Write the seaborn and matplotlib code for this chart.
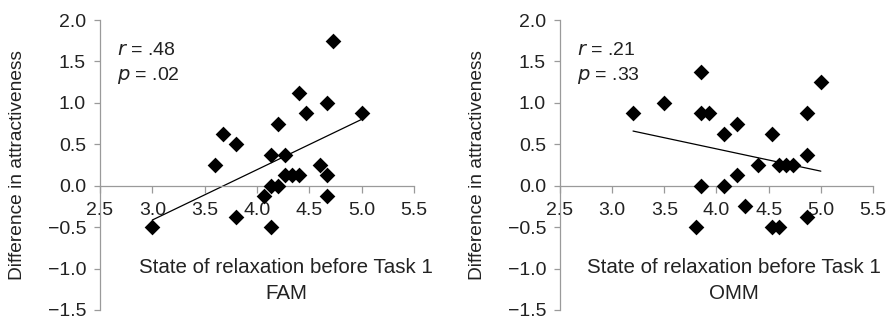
import numpy as np
import pandas as pd
import matplotlib
matplotlib.use("Agg")
import matplotlib.pyplot as plt
import seaborn as sns
from matplotlib.ticker import FuncFormatter

# FAM group
fam_x = [3.0, 3.6, 3.68, 3.8, 3.8, 4.07, 4.13, 4.13, 4.13, 4.2, 4.2, 4.27,
         4.27, 4.33, 4.4, 4.4, 4.47, 4.6, 4.67, 4.67, 4.67, 4.73, 5.0]
fam_y = [-0.5, 0.25, 0.625, 0.5, -0.375, -0.125, -0.5, 0.0, 0.375, 0.0, 0.75, 0.375,
         0.125, 0.125, 0.125, 1.125, 0.875, 0.25, 1.0, 0.125, -0.125, 1.75, 0.875]

# OMM group
omm_x = [3.2, 3.5, 3.85, 3.85, 3.93, 3.85, 3.8, 4.07, 4.07, 4.2, 4.2, 4.27,
         4.4, 4.53, 4.53, 4.6, 4.6, 4.67, 4.73, 4.87, 4.87, 4.87, 5.0]
omm_y = [0.875, 1.0, 1.375, 0.875, 0.875, 0.0, -0.5, 0.625, 0.0, 0.75, 0.125, -0.25,
         0.25, 0.625, -0.5, -0.5, 0.25, 0.25, 0.25, 0.875, 0.375, -0.375, 1.25]

panels = ["FAM", "OMM"]
stats_r = [".48", ".21"]
stats_p = [".02", ".33"]
x_ticks = [2.5, 3.0, 3.5, 4.0, 4.5, 5.0, 5.5]
y_ticks = [-1.5, -1.0, -0.5, 0.0, 0.5, 1.0, 1.5, 2.0]

sns.set_style("white")
plt.rcParams["font.family"] = ["Liberation Sans", "DejaVu Sans"]

text_col = "#222222"
spine_col = "#9a9a9a"
fmt = FuncFormatter(lambda v, pos: f"{v:.1f}".replace("-", "\u2212"))

fig = plt.figure(figsize=(8.91, 3.2), dpi=100)
ax1 = fig.add_axes([0.1122, 0.03125, 0.3524, 0.906])
ax2 = fig.add_axes([0.6285, 0.03125, 0.3513, 0.906])

data = [(fam_x, fam_y), (omm_x, omm_y)]
label_cx = [0.592, 0.555]
for ax, (xs, ys), name, r, p, cx in zip([ax1, ax2], data, panels, stats_r, stats_p, label_cx):
    df = pd.DataFrame({"x": xs, "y": ys})
    sns.regplot(data=df, x="x", y="y", ax=ax, ci=None, scatter=False,
                line_kws={"color": "black", "lw": 0.9})
    sns.scatterplot(data=df, x="x", y="y", ax=ax, marker="D", color="black",
                    s=64, linewidth=0, zorder=3)

    ax.set_xlim(2.5, 5.5)
    ax.set_ylim(-1.5, 2.0)
    ax.set_xticks(x_ticks)
    ax.set_yticks(y_ticks)
    ax.xaxis.set_major_formatter(fmt)
    ax.yaxis.set_major_formatter(fmt)

    for s in ["top", "right"]:
        ax.spines[s].set_visible(False)
    ax.spines["bottom"].set_position(("data", 0))
    for s in ["left", "bottom"]:
        ax.spines[s].set_color(spine_col)
        ax.spines[s].set_linewidth(0.9)

    ax.tick_params(axis="x", direction="out", length=5, width=0.9, pad=7,
                   color=spine_col, labelsize=14, labelcolor=text_col, bottom=True)
    ax.tick_params(axis="y", direction="out", length=4, width=0.9, pad=6,
                   color=spine_col, labelsize=14, labelcolor=text_col, left=True)

    ax.set_xlabel("")
    ax.set_ylabel("Difference in attractiveness", fontsize=13.8, color=text_col)
    ax.yaxis.set_label_coords(-0.235, 0.5)

    ax.text(cx, 0.145, "State of relaxation before Task 1", transform=ax.transAxes,
            ha="center", va="center", fontsize=14.8, color=text_col, clip_on=False)
    ax.text(cx, 0.058, name, transform=ax.transAxes,
            ha="center", va="center", fontsize=14.8, color=text_col, clip_on=False)

    ax.text(0.055, 0.895, "$\\it{r}$ = " + r, transform=ax.transAxes,
            ha="left", va="center", fontsize=14, color=text_col)
    ax.text(0.055, 0.81, "$\\it{p}$ = " + p, transform=ax.transAxes,
            ha="left", va="center", fontsize=14, color=text_col)

fig.savefig("out.png", dpi=100)
